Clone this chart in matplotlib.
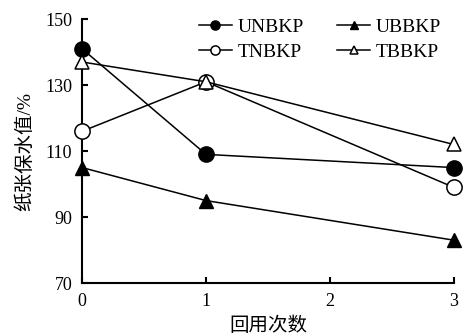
import numpy as np
import matplotlib.pyplot as plt

plt.rcParams['font.family'] = ['Liberation Serif', 'Noto Sans CJK SC']

# 回用次数 vs 纸张保水值
reuse = [0, 1, 3]
unbkp = [141, 109, 105]
ubbkp = [105, 95, 83]
tnbkp = [116, 131, 99]
tbbkp = [137, 131, 112]

fig = plt.figure(figsize=(4.64, 3.35), dpi=100)
ax = fig.add_axes([0.177, 0.155, 0.801, 0.788])

style = dict(color='black', lw=1.1, clip_on=False, zorder=3)
l1, = ax.plot(reuse, unbkp, marker='o', ms=11, mfc='black', mec='black', label='UNBKP', **style)
l2, = ax.plot(reuse, ubbkp, marker='^', ms=10, mfc='black', mec='black', label='UBBKP', **style)
l3, = ax.plot(reuse, tnbkp, marker='o', ms=11, mfc='white', mec='black', mew=1.1, label='TNBKP', **style)
l4, = ax.plot(reuse, tbbkp, marker='^', ms=10, mfc='white', mec='black', mew=1.1, label='TBBKP', **style)

ax.set_xlim(0, 3)
ax.set_ylim(70, 150)
ax.set_xticks([0, 1, 2, 3])
ax.set_yticks([70, 90, 110, 130, 150])
ax.tick_params(direction='in', length=4, width=1.5, labelsize=13, pad=7)

for side in ['top', 'right']:
    ax.spines[side].set_visible(False)
for side in ['left', 'bottom']:
    ax.spines[side].set_linewidth(1.5)

ax.set_xlabel('回用次数', fontsize=14, labelpad=5)
ax.set_ylabel('纸张保水值/%', fontsize=14, labelpad=8)

ax.legend(handles=[l1, l3, l2, l4], ncol=2, loc='upper left',
          bbox_to_anchor=(0.288, 1.04), frameon=False, fontsize=14,
          borderpad=0, handlelength=1.7, handletextpad=0.3,
          columnspacing=1.7, labelspacing=0.4, markerscale=0.6)

fig.savefig('out.png', dpi=100)
